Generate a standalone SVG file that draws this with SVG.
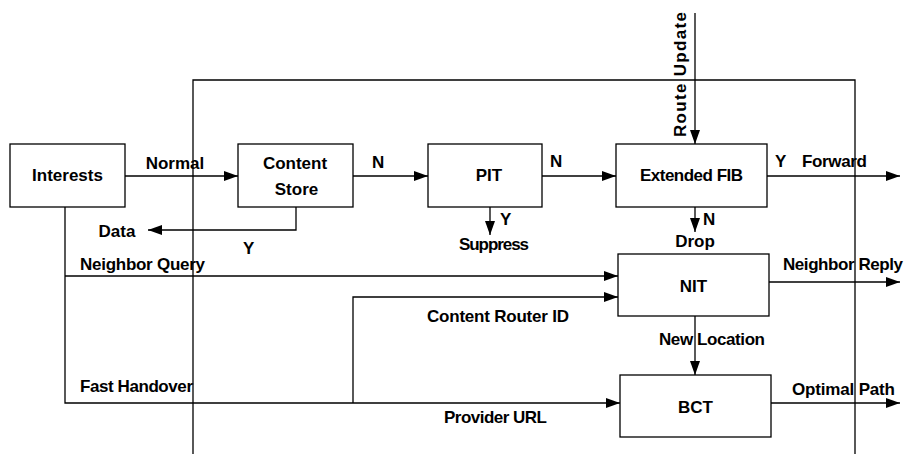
<svg xmlns="http://www.w3.org/2000/svg" width="906" height="454" viewBox="0 0 906 454">
<style>
  .box { fill: #ffffff; stroke: #000000; stroke-width: 1.3; }
  .ln { fill: none; stroke: #000000; stroke-width: 1.3; }
  .arr { fill: none; stroke: #000000; stroke-width: 1.3; marker-end: url(#ah); }
  text { font-family: "Liberation Sans", Arial, sans-serif; font-weight: bold; font-size: 17px; fill: #000000; }
  .c { text-anchor: middle; }
</style>
<defs>
  <marker id="ah" viewBox="0 0 14 10" refX="14" refY="5" markerWidth="14" markerHeight="10" markerUnits="userSpaceOnUse" orient="auto">
    <path d="M0,0 L14,5 L0,10 Z" fill="#000000"/>
  </marker>
</defs>
<rect width="906" height="454" fill="#ffffff"/>

<g id="frame">
  <path class="ln" d="M193,454 V80 H855 V454"/>
</g>

<g id="connectors">
  <path class="arr" d="M125,176 H238"/>
  <path class="arr" d="M353,176 H428"/>
  <path class="arr" d="M542,176 H616"/>
  <path class="arr" d="M767,176 H900"/>
  <path class="arr" d="M296,207 V230 H148"/>
  <path class="arr" d="M490,207 V235"/>
  <path class="arr" d="M695,207 V232"/>
  <path class="arr" d="M695,13 V144"/>
  <path class="arr" d="M65,207 V403 H620"/>
  <path class="arr" d="M65,276 H618"/>
  <path class="arr" d="M353,403 V297 H618"/>
  <path class="arr" d="M769,282 H900"/>
  <path class="arr" d="M695,316 V375"/>
  <path class="arr" d="M771,403 H900"/>
</g>

<g id="labels">
  <text class="c" x="175" y="169">Normal</text>
  <text x="372" y="168">N</text>
  <text x="550" y="167">N</text>
  <text x="775" y="167">Y</text>
  <text x="802" y="167" textLength="65">Forward</text>
  <text class="c" x="117" y="237">Data</text>
  <text x="243" y="254">Y</text>
  <text x="500" y="225">Y</text>
  <text x="459" y="250" textLength="70">Suppress</text>
  <text x="703" y="225">N</text>
  <text class="c" x="695" y="247">Drop</text>
  <text x="80" y="270" textLength="125">Neighbor Query</text>
  <text x="783" y="270" textLength="120">Neighbor Reply</text>
  <text x="427" y="322" textLength="142">Content Router ID</text>
  <text x="659" y="345" textLength="106">New Location</text>
  <text x="80" y="392" textLength="113">Fast Handover</text>
  <text x="444" y="423" textLength="103">Provider URL</text>
  <text x="792" y="395" textLength="103">Optimal Path</text>
  <text transform="translate(686,137) rotate(-90)" textLength="125">Route Update</text>
</g>

<g id="interests">
  <rect class="box" x="10" y="144" width="115" height="63"/>
  <text class="c" x="67.5" y="181">Interests</text>
</g>
<g id="content-store">
  <rect class="box" x="238" y="144" width="115" height="63"/>
  <text class="c" x="295" y="169">Content</text>
  <text class="c" x="296.5" y="195">Store</text>
</g>
<g id="pit">
  <rect class="box" x="428" y="144" width="114" height="63"/>
  <text class="c" x="489" y="181">PIT</text>
</g>
<g id="extended-fib">
  <rect class="box" x="616" y="144" width="151" height="63"/>
  <text x="640" y="181" textLength="103">Extended FIB</text>
</g>
<g id="nit">
  <rect class="box" x="618" y="254" width="151" height="62"/>
  <text class="c" x="693.5" y="292">NIT</text>
</g>
<g id="bct">
  <rect class="box" x="620" y="375" width="151" height="62"/>
  <text class="c" x="695.5" y="413">BCT</text>
</g>
</svg>
